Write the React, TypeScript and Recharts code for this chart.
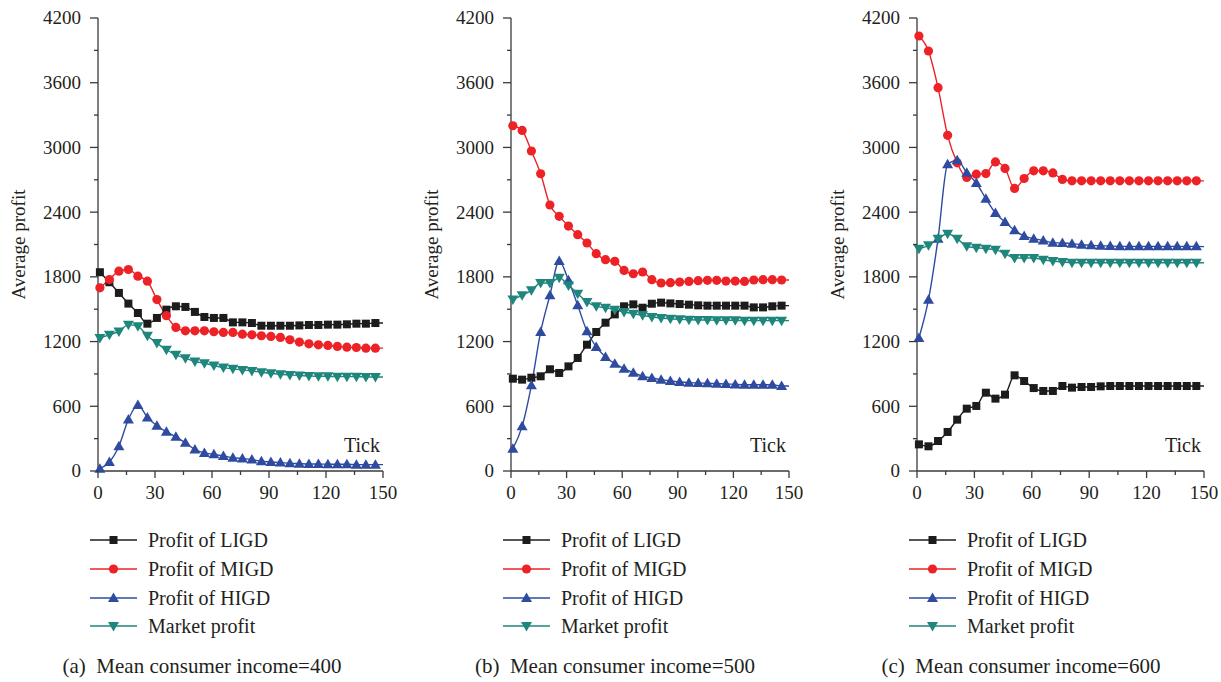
import React from "react";
import { LineChart, Line, XAxis, YAxis } from "recharts";

// x positions of the sampled points (markers every 5 ticks, line ends at 150)
const TICKS = [1, 6, 11, 16, 21, 26, 31, 36, 41, 46, 51, 56, 61, 66, 71, 76, 81, 86, 91, 96, 101, 106, 111, 116, 121, 126, 131, 136, 141, 146, 150];

const X_TICKS = [0, 15, 30, 45, 60, 75, 90, 105, 120, 135, 150];
const Y_TICKS = [0, 300, 600, 900, 1200, 1500, 1800, 2100, 2400, 2700, 3000, 3300, 3600, 3900, 4200];

// (a) mean consumer income = 400
const A_LIGD = [1843, 1750, 1651, 1552, 1465, 1366, 1419, 1496, 1527, 1521, 1475, 1428, 1419, 1419, 1378, 1378, 1372, 1347, 1347, 1347, 1347, 1350, 1354, 1354, 1357, 1357, 1360, 1366, 1366, 1372, 1372];
const A_MIGD = [1698, 1775, 1853, 1868, 1806, 1760, 1589, 1440, 1331, 1300, 1300, 1300, 1291, 1285, 1285, 1269, 1263, 1254, 1248, 1238, 1217, 1195, 1179, 1170, 1164, 1155, 1148, 1145, 1139, 1139, 1139];
const A_HIGD = [22, 84, 230, 478, 611, 497, 419, 363, 317, 261, 199, 168, 155, 140, 124, 115, 106, 90, 84, 78, 71, 68, 65, 65, 62, 62, 62, 59, 59, 59, 59];
const A_MARKET = [1232, 1263, 1294, 1357, 1341, 1254, 1186, 1124, 1077, 1046, 1015, 999, 978, 959, 947, 937, 928, 916, 906, 897, 891, 885, 881, 878, 878, 875, 875, 875, 872, 872, 872];

// (b) mean consumer income = 500
const B_LIGD = [856, 847, 865, 878, 943, 909, 970, 1048, 1171, 1289, 1375, 1452, 1527, 1545, 1514, 1551, 1561, 1554, 1548, 1542, 1536, 1533, 1533, 1533, 1533, 1533, 1517, 1517, 1527, 1533, 1533];
const B_MIGD = [3201, 3158, 2967, 2756, 2466, 2361, 2271, 2191, 2114, 2015, 1959, 1944, 1860, 1829, 1845, 1774, 1743, 1746, 1752, 1758, 1765, 1768, 1768, 1761, 1761, 1758, 1771, 1774, 1774, 1771, 1771];
const B_HIGD = [207, 414, 794, 1289, 1629, 1947, 1768, 1536, 1295, 1150, 1057, 995, 949, 912, 878, 862, 847, 834, 825, 819, 816, 813, 810, 807, 803, 800, 800, 800, 800, 788, 788];
const B_MARKET = [1591, 1629, 1675, 1743, 1743, 1792, 1721, 1644, 1567, 1527, 1514, 1496, 1474, 1459, 1443, 1428, 1418, 1412, 1406, 1403, 1400, 1400, 1397, 1397, 1397, 1394, 1394, 1394, 1394, 1394, 1394];

// (c) mean consumer income = 600
const C_LIGD = [247, 229, 278, 362, 476, 578, 603, 726, 671, 708, 887, 834, 769, 742, 742, 788, 773, 779, 779, 785, 788, 788, 788, 788, 788, 788, 788, 788, 788, 788, 788];
const C_MIGD = [4033, 3894, 3554, 3112, 2857, 2722, 2752, 2758, 2866, 2805, 2620, 2712, 2783, 2783, 2764, 2703, 2690, 2690, 2690, 2690, 2690, 2690, 2690, 2690, 2690, 2690, 2690, 2690, 2690, 2690, 2690];
const C_HIGD = [1233, 1588, 2154, 2843, 2880, 2766, 2670, 2525, 2392, 2308, 2231, 2179, 2154, 2138, 2117, 2114, 2108, 2098, 2092, 2089, 2086, 2083, 2083, 2083, 2083, 2083, 2083, 2083, 2083, 2083, 2080];
const C_MARKET = [2061, 2092, 2154, 2200, 2154, 2083, 2070, 2061, 2052, 2015, 1975, 1975, 1975, 1959, 1947, 1938, 1931, 1931, 1931, 1931, 1931, 1931, 1931, 1931, 1931, 1931, 1931, 1931, 1931, 1931, 1931];

const SERIES = [
  { key: "ligd", name: "Profit of LIGD", color: "#1c1c1c", shape: "square" },
  { key: "migd", name: "Profit of MIGD", color: "#ec2227", shape: "circle" },
  { key: "higd", name: "Profit of HIGD", color: "#2e4b9f", shape: "up" },
  { key: "market", name: "Market profit", color: "#1f867d", shape: "down" },
];

const FONT = "'Liberation Serif', 'Times New Roman', serif";
const TEXT = "#231f20";
const AXIS = "#3a3a3a";
const PAD = 10; // room left of the y axis label
const YW = 87; // y axis band width
const AX = PAD + YW; // axis line x inside the chart
const TOP = 18;
const PLOT_H = 453;
const BOTTOM = TOP + PLOT_H;

const Marker = ({ shape, cx, cy, color }: { shape: string; cx: number; cy: number; color: string }) => {
  if (shape === "square") return <rect x={cx - 4} y={cy - 4} width={8} height={8} fill={color} />;
  if (shape === "circle") return <circle cx={cx} cy={cy} r={4.6} fill={color} />;
  if (shape === "up")
    return <polygon points={`${cx},${cy - 5.5} ${cx - 5.5},${cy + 4} ${cx + 5.5},${cy + 4}`} fill={color} />;
  return <polygon points={`${cx},${cy + 5.5} ${cx - 5.5},${cy - 4} ${cx + 5.5},${cy - 4}`} fill={color} />;
};

const YTick = (props: any) => {
  const { y, payload } = props;
  const major = payload.value % 600 === 0;
  return (
    <g>
      <line x1={AX - (major ? 8 : 4)} x2={AX} y1={y} y2={y} stroke={AXIS} strokeWidth={1.3} />
      {major && (
        <text x={AX - 17} y={y} dy="0.34em" textAnchor="end" fontSize={19} fontFamily={FONT} fill={TEXT}>
          {payload.value}
        </text>
      )}
    </g>
  );
};

const XTick = (props: any) => {
  const { x, payload } = props;
  const major = payload.value % 30 === 0;
  return (
    <g>
      <line x1={x} x2={x} y1={BOTTOM} y2={BOTTOM + (major ? 7 : 4)} stroke={AXIS} strokeWidth={1.3} />
      {major && (
        <text x={x} y={BOTTOM + 28} textAnchor="middle" fontSize={19} fontFamily={FONT} fill={TEXT}>
          {payload.value}
        </text>
      )}
    </g>
  );
};

type PanelProps = {
  axisX: number;
  plotW: number;
  caption: string;
  ligd: number[];
  migd: number[];
  higd: number[];
  market: number[];
};

const Panel = ({ axisX, plotW, caption, ligd, migd, higd, market }: PanelProps) => {
  const data = TICKS.map((t, i) => ({ tick: t, ligd: ligd[i], migd: migd[i], higd: higd[i], market: market[i] }));
  const right = 14;
  const width = AX + plotW + right;
  return (
    <>
      <div style={{ position: "absolute", left: axisX - AX, top: 0 }}>
        <LineChart width={width} height={BOTTOM + 44} data={data} margin={{ top: TOP, right, left: PAD, bottom: 14 }}>
          <XAxis
            dataKey="tick"
            type="number"
            domain={[0, 150]}
            ticks={X_TICKS}
            interval={0}
            tick={<XTick />}
            tickLine={false}
            axisLine={{ stroke: AXIS, strokeWidth: 1.3 }}
            height={30}
          />
          <YAxis
            type="number"
            domain={[0, 4200]}
            ticks={Y_TICKS}
            interval={0}
            width={YW}
            tick={<YTick />}
            tickLine={false}
            axisLine={{ stroke: AXIS, strokeWidth: 1.3 }}
            label={{
              value: "Average profit",
              angle: -90,
              position: "insideLeft",
              offset: 7,
              style: { textAnchor: "middle", fontSize: 19, fontFamily: FONT, fill: TEXT },
            }}
          />
          {SERIES.map((s) => (
            <Line
              key={s.key}
              dataKey={s.key}
              type="monotone"
              stroke={s.color}
              strokeWidth={1.4}
              isAnimationActive={false}
              activeDot={false}
              dot={(p: any) =>
                p.index === TICKS.length - 1 ? (
                  <g key={`${s.key}-${p.index}`} />
                ) : (
                  <Marker key={`${s.key}-${p.index}`} shape={s.shape} cx={p.cx} cy={p.cy} color={s.color} />
                )
              }
            />
          ))}
        </LineChart>
      </div>
      <div
        style={{
          position: "absolute",
          left: axisX + plotW - 63,
          width: 60,
          top: 435,
          textAlign: "right",
          fontFamily: FONT,
          fontSize: 20,
          lineHeight: "20px",
          color: TEXT,
        }}
      >
        Tick
      </div>
      <div style={{ position: "absolute", left: axisX - 8, top: 526, fontFamily: FONT, color: TEXT }}>
        {SERIES.map((s) => (
          <div key={s.key} style={{ display: "flex", alignItems: "center", height: 28.7 }}>
            <svg width={47} height={14} style={{ display: "block" }}>
              <line x1={0} x2={47} y1={7} y2={7} stroke={s.color} strokeWidth={1.6} />
              <Marker shape={s.shape} cx={23.5} cy={7} color={s.color} />
            </svg>
            <span style={{ marginLeft: 11, fontSize: 20, lineHeight: "20px" }}>{s.name}</span>
          </div>
        ))}
      </div>
      <div
        style={{
          position: "absolute",
          left: axisX + 104 - 200,
          width: 400,
          top: 655,
          textAlign: "center",
          fontFamily: FONT,
          fontSize: 21,
          lineHeight: "23px",
          color: TEXT,
          whiteSpace: "pre",
        }}
      >
        {caption}
      </div>
    </>
  );
};

export default function App() {
  return (
    <div style={{ position: "absolute", left: 0, top: 0, width: 1221, height: 682, overflow: "hidden", background: "#fff" }}>
      <Panel axisX={98} plotW={285} caption="(a)  Mean consumer income=400" ligd={A_LIGD} migd={A_MIGD} higd={A_HIGD} market={A_MARKET} />
      <Panel axisX={511} plotW={278} caption="(b)  Mean consumer income=500" ligd={B_LIGD} migd={B_MIGD} higd={B_HIGD} market={B_MARKET} />
      <Panel axisX={917} plotW={287} caption="(c)  Mean consumer income=600" ligd={C_LIGD} migd={C_MIGD} higd={C_HIGD} market={C_MARKET} />
    </div>
  );
}
